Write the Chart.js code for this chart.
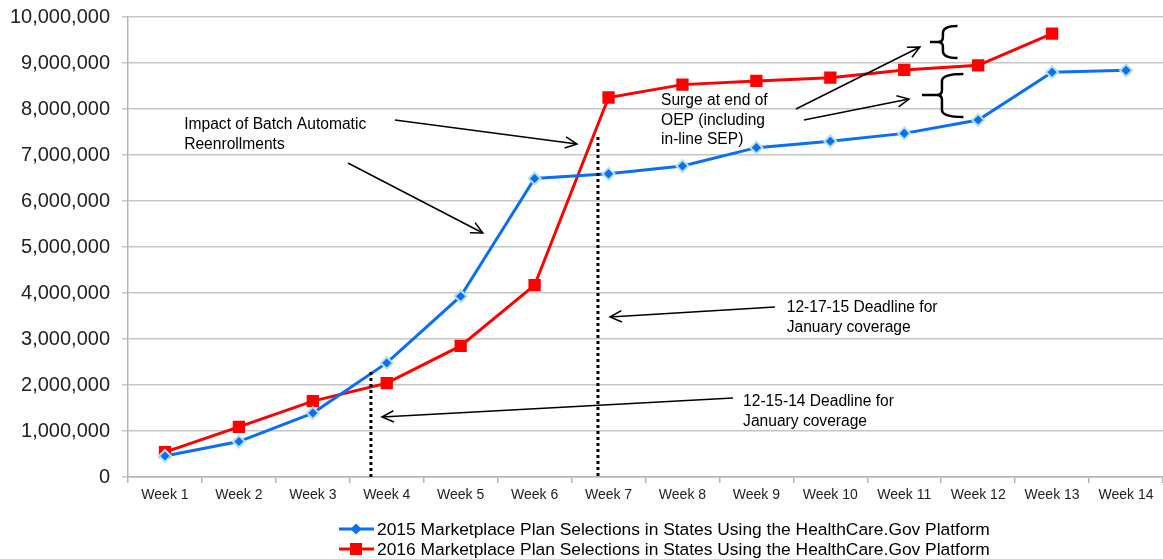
<!DOCTYPE html>
<html><head><meta charset="utf-8">
<script src="https://cdn.jsdelivr.net/npm/chart.js@4/dist/chart.umd.min.js"></script>
<style>html,body{margin:0;padding:0;background:#fff}#wrap{width:1163px;height:559px}</style>
</head><body><div id="wrap"><canvas id="c" width="1163" height="559"></canvas></div>
<script>
const weeks = ['Week 1','Week 2','Week 3','Week 4','Week 5','Week 6','Week 7','Week 8','Week 9','Week 10','Week 11','Week 12','Week 13','Week 14'];
const selections2015 = [457000, 770000, 1390000, 2480000, 3930000, 6490000, 6590000, 6760000, 7160000, 7300000, 7470000, 7760000, 8800000, 8840000];
const selections2016 = [540000, 1090000, 1650000, 2040000, 2850000, 4170000, 8250000, 8530000, 8610000, 8680000, 8850000, 8950000, 9640000];
const seriesLabels = [
  '2015 Marketplace Plan Selections in States Using the HealthCare.Gov Platform',
  '2016 Marketplace Plan Selections in States Using the HealthCare.Gov Platform'
];
const yTicks = [0,1000000,2000000,3000000,4000000,5000000,6000000,7000000,8000000,9000000,10000000];

const FONT = 'Arial, "Liberation Sans", sans-serif';
const BLUE = '#0b6ff2', RED = '#ff0000';

// annotations in data coordinates (category index, value)
const notes = [
  {lines:['Impact of Batch Automatic','Reenrollments'], x:0.26, y:7650000},
  {lines:['Surge at end of','OEP (including','in-line SEP)'], x:6.71, y:8174000},
  {lines:['12-17-15 Deadline for','January coverage'], x:8.41, y:3674000},
  {lines:['12-15-14 Deadline for','January coverage'], x:7.82, y:1630000}
];
const arrows = [
  [2.475, 6826000, 4.30, 5304000],
  [3.11, 7761000, 5.573, 7239000],
  [8.535, 8000000, 10.212, 9348000],
  [8.643, 7761000, 10.064, 8217000],
  [8.251, 3696000, 6.019, 3478000],
  [7.683, 1717000, 2.935, 1304000]
];
const dottedLines = [[2.786, 2283000], [5.857, 7391000]];
const braces = [
  {xl:10.348, xm:10.523, xr:10.72, yt:9804000, yc:9457000, yb:9109000},
  {xl:10.239, xm:10.51, xr:10.80, yt:8761000, yc:8304000, yb:7826000}
];

const annot = {
  id:'annot',
  afterDatasetsDraw(chart){
    const ctx = chart.ctx, xs = chart.scales.x, ys = chart.scales.y;
    const X = v => xs.getPixelForValue(v), Y = v => ys.getPixelForValue(v);
    ctx.save();
    ctx.strokeStyle = '#000'; ctx.lineWidth = 3; ctx.setLineDash([3,3]);
    dottedLines.forEach(d => { ctx.beginPath(); ctx.moveTo(X(d[0]), Y(d[1])); ctx.lineTo(X(d[0]), Y(0)); ctx.stroke(); });
    ctx.setLineDash([]);
    ctx.lineWidth = 1.5;
    arrows.forEach(a => {
      const x1=X(a[0]), y1=Y(a[1]), x2=X(a[2]), y2=Y(a[3]);
      ctx.beginPath(); ctx.moveTo(x1,y1); ctx.lineTo(x2,y2); ctx.stroke();
      const ang = Math.atan2(y2-y1, x2-x1), L = 13, s = 0.45;
      ctx.beginPath();
      ctx.moveTo(x2 - L*Math.cos(ang - s), y2 - L*Math.sin(ang - s));
      ctx.lineTo(x2, y2);
      ctx.lineTo(x2 - L*Math.cos(ang + s), y2 - L*Math.sin(ang + s));
      ctx.stroke();
    });
    ctx.lineWidth = 2.5; ctx.lineJoin = 'round';
    braces.forEach(b => {
      const xl=X(b.xl), xm=X(b.xm), xr=X(b.xr), yt=Y(b.yt), yc=Y(b.yc), yb=Y(b.yb);
      const rv = 7;
      ctx.beginPath();
      ctx.moveTo(xr, yt);
      ctx.quadraticCurveTo(xm, yt, xm, yt + rv);
      ctx.lineTo(xm, yc - 5);
      ctx.quadraticCurveTo(xm, yc, xm - 5, yc);
      ctx.lineTo(xl, yc);
      ctx.moveTo(xm - 5, yc);
      ctx.quadraticCurveTo(xm, yc, xm, yc + 5);
      ctx.lineTo(xm, yb - rv);
      ctx.quadraticCurveTo(xm, yb, xr, yb);
      ctx.stroke();
    });
    ctx.fillStyle = '#000'; ctx.font = '15.6px ' + FONT; ctx.textAlign = 'left'; ctx.textBaseline = 'middle';
    notes.forEach(n => n.lines.forEach((t,i) => ctx.fillText(t, X(n.x), Y(n.y) + i*19.5)));
    ctx.restore();
  },
  afterDraw(chart){
    const ctx = chart.ctx;
    ctx.save();
    const colors = [BLUE, RED];
    const rows = [529, 549];
    ctx.font = '17.4px ' + FONT; ctx.textBaseline = 'middle'; ctx.textAlign = 'left';
    rows.forEach((yy, i) => {
      ctx.strokeStyle = colors[i]; ctx.lineWidth = 3;
      ctx.beginPath(); ctx.moveTo(339, yy); ctx.lineTo(374, yy); ctx.stroke();
      ctx.fillStyle = colors[i];
      ctx.beginPath();
      if (i === 0) { ctx.moveTo(356, yy-5.5); ctx.lineTo(361.5, yy); ctx.lineTo(356, yy+5.5); ctx.lineTo(350.5, yy); ctx.closePath(); }
      else { ctx.rect(350, yy-6, 12, 12); }
      ctx.fill();
      ctx.fillStyle = '#000';
      ctx.fillText(seriesLabels[i], 377, yy + 1);
    });
    ctx.restore();
  }
};

new Chart(document.getElementById('c'), {
  type:'line',
  data:{
    labels: weeks,
    datasets:[
      {label:seriesLabels[0], data:selections2015, borderColor:BLUE, backgroundColor:BLUE, borderWidth:3,
       pointStyle:'rectRot', pointRadius:6, pointBorderColor:'#b4e2ea', pointBorderWidth:2, pointBackgroundColor:BLUE, tension:0},
      {label:seriesLabels[1], data:selections2016, borderColor:RED, backgroundColor:RED, borderWidth:3,
       pointStyle:'rect', pointRadius:8.7, pointBorderWidth:0, pointBackgroundColor:RED, tension:0}
    ]
  },
  options:{
    responsive:false, animation:false,
    layout:{autoPadding:false, padding:{top:17, right:0, left:0, bottom:0}},
    plugins:{legend:{display:false}, tooltip:{enabled:false}},
    scales:{
      x:{
        offset:true,
        grid:{offset:true, drawOnChartArea:false, drawTicks:true, tickLength:6, color:'#b5b5b5', lineWidth:1.5},
        border:{color:'#b5b5b5', width:1.5},
        ticks:{font:{family:FONT, size:14}, color:'#222', padding:4, maxRotation:0, autoSkip:false},
        afterFit(s){ s.height = 82; s.paddingLeft = 0; s.paddingRight = 0; }
      },
      y:{
        min:0, max:10000000,
        afterBuildTicks(s){ s.ticks = yTicks.map(v => ({value:v})); },
        grid:{color:'#c6c6c6', lineWidth:1.5, tickLength:6},
        border:{color:'#b5b5b5', width:1.5},
        ticks:{font:{family:FONT, size:20}, color:'#222', padding:12, callback:v => v.toLocaleString('en-US')},
        afterFit(s){ s.width = 128; s.paddingTop = 0; s.paddingBottom = 0; }
      }
    }
  },
  plugins:[annot]
});
</script></body></html>
